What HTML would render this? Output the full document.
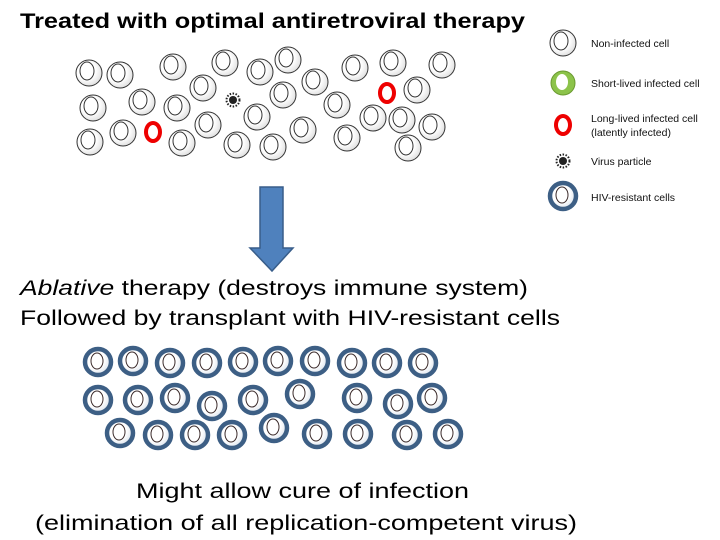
<!DOCTYPE html>
<html><head><meta charset="utf-8"><style>body{margin:0;background:#fff}svg{display:block}</style></head>
<body>
<svg width="720" height="540" viewBox="0 0 720 540" xmlns="http://www.w3.org/2000/svg" font-family="Liberation Sans, sans-serif">
<defs>
<radialGradient id="g" cx="0.4" cy="0.4" r="0.7"><stop offset="0.5" stop-color="#fff"/><stop offset="1" stop-color="#d8d8d8"/></radialGradient>
<radialGradient id="gb" cx="0.4" cy="0.4" r="0.7"><stop offset="0.5" stop-color="#fff"/><stop offset="1" stop-color="#d0dae6"/></radialGradient>
<g id="c"><circle r="13" fill="url(#g)" stroke="#333" stroke-width="1"/><ellipse cx="-2" cy="-2" rx="7" ry="9" fill="#fff" stroke="#333" stroke-width="1"/></g>
<g id="b"><circle r="13" fill="url(#gb)" stroke="#3d5f85" stroke-width="4.5"/><ellipse cx="-1" cy="-1" rx="6" ry="8" fill="#fff" stroke="#3a2a2a" stroke-width="1"/></g>
<g id="r"><ellipse rx="7" ry="9" fill="#fff" stroke="#e00" stroke-width="4"/></g>
<g id="v"><circle r="4" fill="#222"/><circle r="6.5" fill="none" stroke="#222" stroke-width="2" stroke-dasharray="1.5 1.5"/></g>
</defs>
<text x="20" y="28" font-size="21" font-weight="bold" textLength="505" lengthAdjust="spacingAndGlyphs">Treated with optimal antiretroviral therapy</text>
<g>
<use href="#c" x="89" y="73"/><use href="#c" x="120" y="75"/><use href="#c" x="173" y="67"/><use href="#c" x="225" y="63"/><use href="#c" x="260" y="72"/><use href="#c" x="288" y="60"/><use href="#c" x="355" y="68"/><use href="#c" x="393" y="63"/><use href="#c" x="442" y="65"/>
<use href="#c" x="93" y="108"/><use href="#c" x="142" y="102"/><use href="#c" x="177" y="108"/><use href="#c" x="203" y="88"/><use href="#c" x="315" y="82"/><use href="#c" x="283" y="95"/><use href="#c" x="337" y="105"/><use href="#c" x="417" y="90"/>
<use href="#c" x="90" y="142"/><use href="#c" x="123" y="133"/><use href="#c" x="182" y="143"/><use href="#c" x="208" y="125"/><use href="#c" x="257" y="117"/><use href="#c" x="237" y="145"/><use href="#c" x="273" y="147"/><use href="#c" x="303" y="130"/><use href="#c" x="347" y="138"/><use href="#c" x="373" y="118"/><use href="#c" x="402" y="120"/><use href="#c" x="432" y="127"/><use href="#c" x="408" y="148"/>
<use href="#r" x="153" y="132"/><use href="#r" x="387" y="93"/><use href="#v" x="233" y="100"/>
</g>
<g font-size="10.5" fill="#111">
<use href="#c" x="563" y="43"/><text x="591" y="47">Non-infected cell</text>
<circle cx="563" cy="83" r="12" fill="#8cc34a" stroke="#6a9a30"/><ellipse cx="562" cy="82" rx="6" ry="8" fill="#fff"/><text x="591" y="87">Short-lived infected cell</text>
<use href="#r" x="563" y="125"/><text x="591" y="122">Long-lived infected cell</text><text x="591" y="136">(latently infected)</text>
<use href="#v" x="563" y="161"/><text x="591" y="165">Virus particle</text>
<use href="#b" x="563" y="196"/><text x="591" y="201">HIV-resistant cells</text>
</g>
<path d="M260 187 H283 V248 H293 L272 271 L250 248 H260 Z" fill="#4f81bd" stroke="#385d8a" stroke-width="1.5"/>
<text x="20" y="295" font-size="21" textLength="508" lengthAdjust="spacingAndGlyphs"><tspan font-style="italic">Ablative</tspan> therapy (destroys immune system)</text>
<text x="20" y="325" font-size="21" textLength="540" lengthAdjust="spacingAndGlyphs">Followed by transplant with HIV-resistant cells</text>
<g>
<use href="#b" x="98" y="362"/><use href="#b" x="133" y="361"/><use href="#b" x="170" y="363"/><use href="#b" x="207" y="363"/><use href="#b" x="243" y="362"/><use href="#b" x="278" y="361"/><use href="#b" x="315" y="361"/><use href="#b" x="352" y="363"/><use href="#b" x="387" y="363"/><use href="#b" x="423" y="363"/>
<use href="#b" x="98" y="400"/><use href="#b" x="138" y="400"/><use href="#b" x="175" y="398"/><use href="#b" x="212" y="406"/><use href="#b" x="253" y="400"/><use href="#b" x="300" y="394"/><use href="#b" x="357" y="398"/><use href="#b" x="398" y="404"/><use href="#b" x="432" y="398"/>
<use href="#b" x="120" y="433"/><use href="#b" x="158" y="435"/><use href="#b" x="195" y="435"/><use href="#b" x="232" y="435"/><use href="#b" x="274" y="428"/><use href="#b" x="317" y="434"/><use href="#b" x="358" y="434"/><use href="#b" x="407" y="435"/><use href="#b" x="448" y="434"/>
</g>
<text x="136" y="498" font-size="21" textLength="333" lengthAdjust="spacingAndGlyphs">Might allow cure of infection</text>
<text x="35" y="530" font-size="21" textLength="542" lengthAdjust="spacingAndGlyphs">(elimination of all replication-competent virus)</text>
</svg>
</body></html>
